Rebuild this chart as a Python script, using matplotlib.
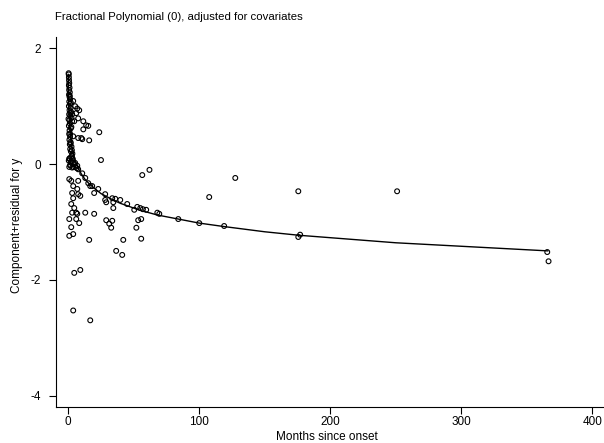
import matplotlib
matplotlib.use('Agg')
import matplotlib.pyplot as plt

plt.rcParams['font.family'] = ['Liberation Sans', 'DejaVu Sans']

# Component+residual points (months since onset, residual)
months = [
    0.3, 0.4, 0.5, 0.6, 0.8, 0.5, 1.0, 0.7, 1.2, 0.6, 1.0, 1.5, 0.8, 1.3, 0.5, 1.8,
    1.0, 2.2, 0.7, 1.5, 2.5, 0.9, 3.0, 1.2, 0.5, 2.0, 1.0, 0.7, 1.4, 0.9, 1.8, 1.2,
    2.5, 1.5, 2.0, 3.2, 2.7, 1.0, 0.4, 2.0, 3.5, 4.5, 1.5, 0.8, 3.0, 5.5, 6.5,
    6.1, 8.4, 11.5, 13.7, 11.5, 15.3, 23.7, 16.0, 10.0, 25.0,
    3.8, 5.3, 6.9, 3.0, 0.2, 4.6, 7.6, 1.5, 3.8, 7.6, 10.7,
    0.8, 3.0, 5.3, 1.5, 3.8, 6.9, 7.6,
    10.7, 13.0, 15.3, 18.3, 22.9, 28.2, 33.6, 35.9, 39.7, 45.0, 50.4, 52.7, 55.0,
    57.0, 59.5, 68.0, 69.5, 84.0, 100.0, 119.0, 175.6, 177.0, 365.6,
    0.8, 2.3, 7.6, 3.8, 6.9, 7.6, 3.0, 3.8, 9.2, 16.8, 19.8, 28.2, 34.4, 2.3, 4.6,
    3.0, 6.1, 6.9, 13.0, 19.8, 0.8, 6.1, 8.4, 2.3, 0.8, 3.8, 16.0, 29.0, 31.3, 33.6,
    32.8, 29.0, 34.4, 42.0, 36.6, 41.2, 55.7, 52.0, 53.4, 55.7, 4.6, 9.2, 3.8, 16.8,
    56.5, 62.0, 127.5, 175.6, 107.6, 251.0, 366.6,
    1.2, 2.0, 1.6, 2.4, 1.9, 2.8, 2.2, 3.4,
]
residual = [
    1.57, 1.55, 1.50, 1.45, 1.40, 1.36, 1.32, 1.28, 1.24, 1.20, 1.16, 1.12, 1.08, 1.04, 1.00, 0.97,
    0.93, 0.90, 0.86, 0.83, 0.80, 0.76, 0.74, 0.70, 0.66, 0.62, 0.58, 0.52, 0.47, 0.42, 0.38, 0.34,
    0.30, 0.26, 0.22, 0.18, 0.14, 0.10, 0.06, 0.04, 0.02, 0.00, -0.02, -0.05, -0.06, -0.05, -0.07,
    0.88, 0.93, 0.74, 0.67, 0.60, 0.66, 0.55, 0.41, 0.45, 0.07,
    1.09, 1.00, 0.96, 0.86, 0.78, 0.74, 0.79, 0.52, 0.48, 0.45, 0.43,
    0.09, 0.05, 0.02, -0.02, -0.05, -0.03, -0.09,
    -0.16, -0.24, -0.33, -0.38, -0.43, -0.52, -0.59, -0.60, -0.62, -0.69, -0.79, -0.74, -0.76,
    -0.78, -0.79, -0.84, -0.86, -0.95, -1.02, -1.07, -1.26, -1.22, -1.52,
    -0.26, -0.29, -0.29, -0.38, -0.43, -0.52, -0.50, -0.59, -0.55, -0.38, -0.50, -0.62, -0.76, -0.69, -0.76,
    -0.84, -0.84, -0.86, -0.84, -0.86, -0.95, -0.95, -1.02, -1.09, -1.24, -1.21, -1.31, -0.97, -1.03, -0.98,
    -1.10, -0.66, -0.66, -1.31, -1.50, -1.57, -1.29, -1.10, -0.97, -0.95, -1.88, -1.83, -2.53, -2.70,
    -0.19, -0.10, -0.24, -0.47, -0.57, -0.47, -1.68,
    1.18, 1.06, 0.88, 0.64, 0.36, 0.24, 0.12, 0.09,
]

# Fitted component curve
fit_x = [0.1, 0.2, 0.3, 0.5, 0.75, 1, 1.5, 2, 3, 4, 5, 6, 8, 10, 13, 16, 20, 25, 30,
         35, 40, 45, 50, 55, 60, 68, 84, 100, 119, 150, 176, 250, 366]
fit_y = [1.55, 1.28, 1.13, 0.94, 0.79, 0.68, 0.53, 0.43, 0.28, 0.17, 0.09, 0.02, -0.09,
         -0.17, -0.27, -0.34, -0.42, -0.51, -0.57, -0.63, -0.68, -0.72, -0.76, -0.80,
         -0.83, -0.88, -0.95, -1.02, -1.08, -1.17, -1.23, -1.36, -1.50]

fig = plt.figure(figsize=(6.04, 4.43), dpi=100)
ax = fig.add_axes([0.093, 0.081, 0.905, 0.836])

ax.scatter(months, residual, s=12, facecolors='none', edgecolors='black', linewidths=0.8, zorder=2)
ax.plot(fit_x, fit_y, color='black', linewidth=1.0, zorder=3)

ax.set_xlim(-9.2, 408)
ax.set_ylim(-4.2, 2.2)
ax.set_xticks([0, 100, 200, 300, 400])
ax.set_yticks([2, 0, -2, -4])
ax.set_yticklabels(['2', '0', '-2', '-4'])

for side in ['top', 'right']:
    ax.spines[side].set_visible(False)
for side in ['left', 'bottom']:
    ax.spines[side].set_linewidth(0.8)
ax.tick_params(direction='out', length=5, width=0.8, labelsize=8.5)
ax.tick_params(axis='x', pad=1.5)
ax.tick_params(axis='y', pad=6)

fig.text(0.541, 0.014, 'Months since onset', fontsize=8.5, ha='center', va='center')
fig.text(0.028, 0.492, 'Component+residual for y', fontsize=8.5, ha='center', va='center',
         rotation=90)
fig.text(0.091, 0.962, 'Fractional Polynomial (0), adjusted for covariates',
         fontsize=8.2, ha='left', va='center')

fig.savefig('out.png', dpi=100)
